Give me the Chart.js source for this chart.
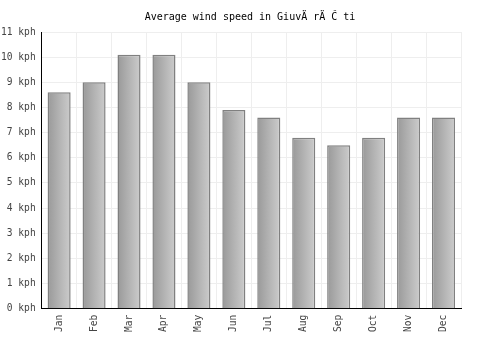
<!DOCTYPE html>
<html>
<head>
<meta charset="utf-8">
<script src="https://cdn.jsdelivr.net/npm/chart.js@4/dist/chart.umd.min.js"></script>
<style>
  body { margin: 0; background: #fff; }
</style>
</head>
<body>
<canvas id="myChart" width="500" height="350"></canvas>
<script>
const months = ['Jan', 'Feb', 'Mar', 'Apr', 'May', 'Jun', 'Jul', 'Aug', 'Sep', 'Oct', 'Nov', 'Dec'];
const windSpeed = [8.6, 9.0, 10.1, 10.1, 9.0, 7.9, 7.6, 6.8, 6.5, 6.8, 7.6, 7.6];
const unit = ' kph';

// gradient per bar, dark on the left, light on the right
const barGradient = {
  id: 'barGradient',
  afterLayout(chart) {
    // centre the title over the whole canvas, not the padded area
    if (chart.titleBlock) {
      chart.titleBlock.left = 0;
      chart.titleBlock.right = chart.width;
      chart.titleBlock.width = chart.width;
    }
  },
  beforeDatasetsDraw(chart) {
    const c = chart.ctx;
    chart.getDatasetMeta(0).data.forEach(bar => {
      const g = c.createLinearGradient(bar.x - bar.width / 2, 0, bar.x + bar.width / 2, 0);
      g.addColorStop(0, '#999999');
      g.addColorStop(1, '#cccccc');
      bar.options = Object.assign({}, bar.options, { backgroundColor: g });
    });
  }
};

const font = { family: 'DejaVu Sans Mono', size: 9.6, weight: 'normal' };

new Chart(document.getElementById('myChart'), {
  type: 'bar',
  data: {
    labels: months,
    datasets: [{
      data: windSpeed,
      backgroundColor: '#aaaaaa',
      borderColor: '#808080',
      borderWidth: 1.5,
      barPercentage: 0.66,
      categoryPercentage: 1
    }]
  },
  options: {
    responsive: false,
    animation: false,
    layout: { padding: { left: -5, right: 39, top: 0, bottom: 12 } },
    plugins: {
      legend: { display: false },
      tooltip: { enabled: false },
      title: {
        display: true,
        text: 'Average wind speed in GiuvÄ rÄ Ĉ ti',
        color: '#000',
        font: { family: 'DejaVu Sans Mono', size: 10, weight: 'normal' },
        padding: { top: 11, bottom: 9 }
      }
    },
    scales: {
      x: {
        grid: { color: '#eeeeee', drawTicks: false },
        border: { color: '#000', width: 1 },
        ticks: { color: '#444', font: font, maxRotation: 90, minRotation: 90, padding: 6 }
      },
      y: {
        min: 0,
        max: 11,
        grid: { color: '#eeeeee', drawTicks: false },
        border: { color: '#000', width: 1 },
        ticks: {
          stepSize: 1,
          color: '#444',
          font: font,
          padding: 6,
          callback: v => v + unit
        }
      }
    }
  },
  plugins: [barGradient]
});
</script>
</body>
</html>
